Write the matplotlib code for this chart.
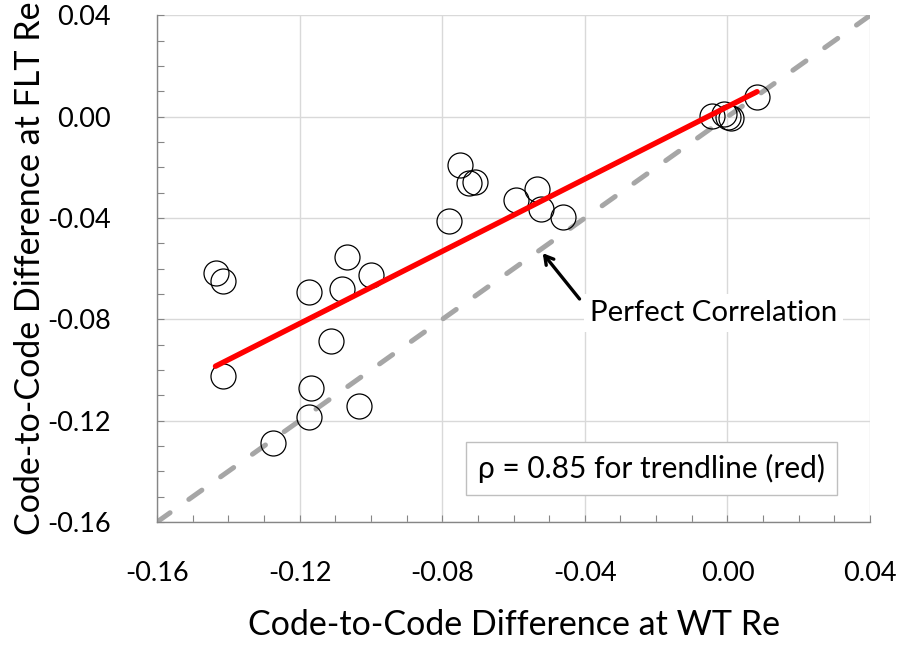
import numpy as np
import matplotlib
matplotlib.use('Agg')
import matplotlib.pyplot as plt
from matplotlib.ticker import MultipleLocator, FormatStrFormatter

plt.rcParams['font.family'] = ['Lato', 'DejaVu Sans']

# code-to-code differences
wt_re = [-0.1435, -0.1414, -0.1416, -0.1174, -0.1113, -0.1066, -0.1080, -0.0999,
         -0.1167, -0.1174, -0.1033, -0.1275, -0.0781, -0.0750, -0.0725, -0.0709,
         -0.0592, -0.0533, -0.0522, -0.0460, -0.0044, -0.0010, 0.0001, 0.0010, 0.0083]
flt_re = [-0.0617, -0.0650, -0.1023, -0.0693, -0.0887, -0.0552, -0.0682, -0.0623,
          -0.1070, -0.1185, -0.1141, -0.1287, -0.0413, -0.0191, -0.0260, -0.0257,
          -0.0327, -0.0286, -0.0365, -0.0395, 0.0002, 0.0009, -0.0002, -0.0004, 0.0079]
trend_x = [-0.1436, 0.0083]
trend_y = [-0.0985, 0.0099]
perfect = [-0.16, 0.04]

fig = plt.figure(figsize=(9.03, 6.49), dpi=100)
ax = fig.add_axes([0.1739, 0.1957, 0.7896, 0.7805])

ax.plot(perfect, perfect, color='#A6A6A6', lw=3.6, dashes=(3.2, 4.6),
        dash_capstyle='round', zorder=2)
ax.plot(wt_re, flt_re, 'o', ms=18, mfc='none', mec='black', mew=0.9, zorder=3)
ax.plot(trend_x, trend_y, color='#FF0000', lw=3.9, solid_capstyle='round', zorder=4)

ax.set_xlim(-0.16, 0.04); ax.set_ylim(-0.16, 0.04)
ax.xaxis.set_major_locator(MultipleLocator(0.04)); ax.yaxis.set_major_locator(MultipleLocator(0.04))
ax.xaxis.set_minor_locator(MultipleLocator(0.01)); ax.yaxis.set_minor_locator(MultipleLocator(0.01))
ax.xaxis.set_major_formatter(FormatStrFormatter('%.2f'))
ax.yaxis.set_major_formatter(FormatStrFormatter('%.2f'))
ax.grid(True, which='major', color='#D9D9D9', lw=1.0, zorder=0)
ax.set_axisbelow(True)
for s in ['top', 'right']:
    ax.spines[s].set_visible(False)
for s in ['left', 'bottom']:
    ax.spines[s].set_color('#868686'); ax.spines[s].set_linewidth(1.0)
ax.tick_params(which='both', direction='in', color='#868686', length=5, width=0.8,
               labelsize=19.5, labelcolor='black')
ax.tick_params(axis='x', which='major', pad=28)
ax.tick_params(axis='y', which='major', pad=33)

ax.set_xlabel('Code-to-Code Difference at WT Re', fontsize=24.5, labelpad=17)
ax.set_ylabel('Code-to-Code Difference at FLT Re', fontsize=24.5, labelpad=1)

ax.annotate('', xy=(-0.0523, -0.0530), xytext=(-0.0410, -0.0728),
            arrowprops=dict(arrowstyle='->,head_length=0.6,head_width=0.35', color='black', lw=2.4),
            zorder=5)
ax.text(-0.0385, -0.0776, 'Perfect Correlation', fontsize=21.2, ha='left', va='center',
        bbox=dict(boxstyle='square,pad=0.2', fc='white', ec='none'), zorder=5)
ax.text(-0.0213, -0.1389, 'ρ = 0.85 for trendline (red)', fontsize=21.5, ha='center', va='center',
        bbox=dict(boxstyle='square,pad=0.4', fc='white', ec='#BFBFBF', lw=1.0), zorder=5)

fig.savefig('out.png', dpi=100)
